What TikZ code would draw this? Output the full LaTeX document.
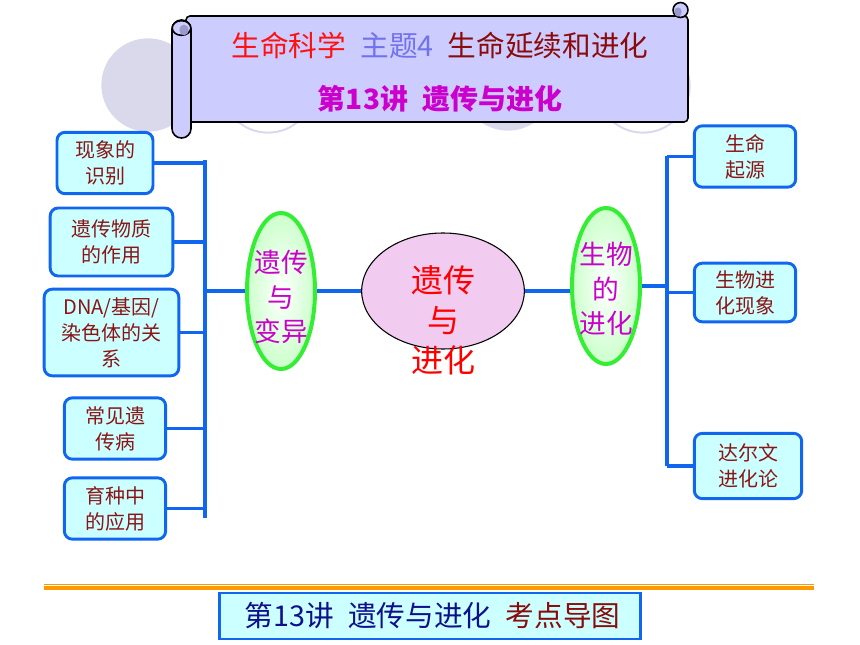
\documentclass[tikz,border=0pt]{standalone}
\usepackage{fontspec}
\usetikzlibrary{shapes.geometric}
\newfontfamily\cjk{Noto Sans CJK SC}
\definecolor{linkblue}{HTML}{1166F0}
\definecolor{leafcyan}{HTML}{CCFFFF}
\definecolor{leafred}{HTML}{8B1414}
\definecolor{podgreen}{HTML}{33EE33}
\definecolor{podfill}{HTML}{CCFFCC}
\definecolor{podmag}{HTML}{CC00CC}
\definecolor{corepink}{HTML}{F2CCF0}
\definecolor{scrollblue}{HTML}{CCCCFF}
\definecolor{scrolldark}{HTML}{9999CC}
\definecolor{bgdisc}{HTML}{DAD9EC}
\definecolor{titlered}{HTML}{FF1111}
\definecolor{titleblue}{HTML}{7272EE}
\definecolor{titledark}{HTML}{8B0A0A}
\definecolor{navy}{HTML}{10108C}
\definecolor{rulecol}{HTML}{FF9900}

\begin{document}
\begin{tikzpicture}[x=0.75pt,y=-0.75pt,
  leaf/.style={draw=linkblue,line width=2.2pt,fill=leafcyan,rounded corners=6pt,align=center,text=leafred,font=\cjk\fontsize{15}{19.5}\selectfont,inner sep=0pt},
  link/.style={linkblue,line width=2.6pt},
  pod/.style={ellipse,draw=podgreen,line width=3pt,inner color=white,outer color=podfill,minimum width=51pt,minimum height=117pt,inner sep=0pt},
  podtext/.style={align=center,text=podmag,font=\cjk\fontsize{20}{26}\selectfont},
  scrollpart/.style={draw=black,line width=1.2pt,fill=scrollblue}]
\useasboundingbox (0,0) rectangle (860,645);

% discs behind the scroll
\fill[bgdisc] (148,85) circle (35pt);
\draw[bgdisc,line width=1.5pt] (268,86) circle (35pt);
\fill[bgdisc] (508,84) circle (35pt);
\draw[bgdisc,line width=1.5pt] (643,86) circle (35pt);

% scroll
\draw[scrollpart,rounded corners=3pt] (186,16) rectangle (688,122);
\draw[scrollpart] (680.5,10) circle (5.6pt);
\fill[scrolldark] (678,12) ellipse (2.8pt and 3.4pt);
\draw[scrollpart,rounded corners=7pt] (172,20) rectangle (191,138);
\draw[scrollpart] (181.5,28) ellipse (7pt and 5.5pt);
\fill[scrolldark] (184,30) ellipse (3.5pt and 4pt);
\node (title) at (440,46) [font=\cjk\fontsize{21.5}{25}\selectfont] {\textcolor{titlered}{生命科学}\hspace{0.5em}\textcolor{titleblue}{主题4}\hspace{0.5em}\textcolor{titledark}{生命延续和进化}};
\node (lecture) at (440,99) [font=\cjk\bfseries\fontsize{21}{25}\selectfont,text=podmag] {第13讲\hspace{0.5em}遗传与进化};

% left leaves
\node[leaf,minimum width=72pt,minimum height=46pt] (phen) at (105,163) {现象的\\识别};
\node[leaf,minimum width=92pt,minimum height=51pt] (mat) at (111.5,242) {遗传物质\\的作用};
\node[leaf,minimum width=101pt,minimum height=65pt] (dna) at (111.5,332.5) {DNA/基因/\\染色体的关\\系};
\node[leaf,minimum width=76pt,minimum height=46pt] (dis) at (115,428.5) {常见遗\\传病};
\node[leaf,minimum width=76pt,minimum height=46pt] (breed) at (115,508.5) {育种中\\的应用};

% middle
\node[pod] (var) at (281,291) {};
\node[podtext] (vartext) at (281,297) {遗传\\与\\变异};
\node[ellipse,draw,line width=0.8pt,fill=corepink,minimum width=122pt,minimum height=87pt,inner sep=0pt] (core) at (443,291) {};
\node[align=center,text=red,font=\cjk\fontsize{24}{30}\selectfont] (coretext) at (443,320) {遗传\\与\\进化};
\node[pod] (evol) at (606,286) {};
\node[podtext] (evoltext) at (606,289) {生物\\的\\进化};

% right leaves
\node[leaf,minimum width=76pt,minimum height=46pt] (orig) at (745,156.5) {生命\\起源};
\node[leaf,minimum width=76pt,minimum height=44pt] (phen2) at (745,292.5) {生物进\\化现象};
\node[leaf,minimum width=80.5pt,minimum height=49pt] (darw) at (748,466) {达尔文\\进化论};

% bars and links
\coordinate (ltop) at (205,160);
\coordinate (lbot) at (205,518);
\coordinate (rtop) at (667,156.5);
\coordinate (rbot) at (667,466);
\draw[link] (ltop) -- (lbot);
\draw[link] (rtop) -- (rbot);
\draw[link] (phen) -- (phen -| ltop);
\draw[link] (mat) -- (mat -| ltop);
\draw[link] (dna) -- (dna -| ltop);
\draw[link] (dis) -- (dis -| ltop);
\draw[link] (breed) -- (breed -| ltop);
\draw[link] (var) -- (var -| ltop);
\draw[link] (var) -- (core);
\draw[link] (core.east) -- (core.east -| evol.west);
\draw[link] (evol) -- (evol -| rtop);
\draw[link] (orig) -- (orig -| rtop);
\draw[link] (phen2) -- (phen2 -| rtop);
\draw[link] (darw) -- (darw -| rtop);

% footer
\draw[rulecol,line width=0.8pt] (44,584.5) -- (814,584.5);
\draw[rulecol,line width=2.4pt] (44,588) -- (814,588);
\node[draw=linkblue,line width=2pt,fill=leafcyan,minimum width=316pt,minimum height=34.5pt,inner sep=0pt,font=\cjk\fontsize{21.5}{25}\selectfont] (banner) at (430,616) {\hspace{4pt}\textcolor{navy}{第13讲\hspace{0.5em}遗传与进化}\hspace{0.5em}\textcolor{titledark}{考点导图}};
\end{tikzpicture}
\end{document}
